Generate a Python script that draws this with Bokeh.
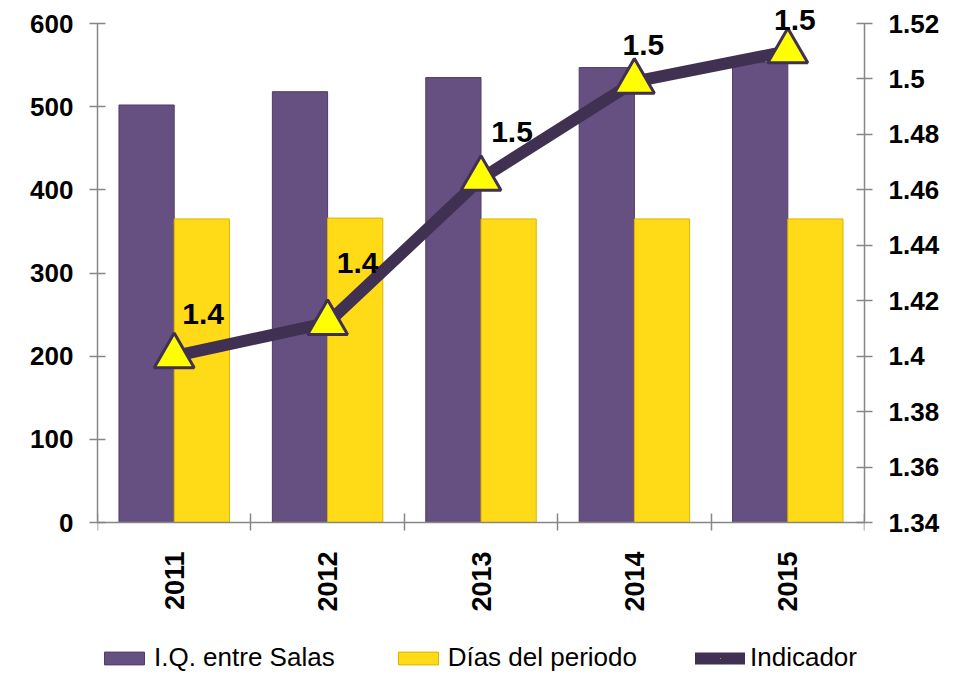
import math
import numpy as np
from bokeh.plotting import figure
from bokeh.models import (Range1d, LinearAxis, FixedTicker, Legend, LegendItem,
                          ColumnDataSource, CustomJSTickFormatter)
from bokeh.core.properties import value
from bokeh.embed import file_html
from bokeh.resources import INLINE

# ---- data ----
years = ["2011", "2012", "2013", "2014", "2015"]
iq_salas = [502, 518, 535, 547, 553]
dias_periodo = [365, 366, 365, 365, 365]
indicador = [1.400, 1.412, 1.464, 1.499, 1.510]
indicador_labels = ["1.4", "1.4", "1.5", "1.5", "1.5"]
left_ticks = [0, 100, 200, 300, 400, 500, 600]
right_ticks = [1.34, 1.36, 1.38, 1.40, 1.42, 1.44, 1.46, 1.48, 1.50, 1.52]

# ---- styles ----
PURPLE = "#665081"
PURPLE_EDGE = "#4e3c64"
YELLOW = "#FFDB17"
YELLOW_EDGE = "#d9b400"
LINE = "#403152"
TRI = "#FFFF00"
AXIS = "#868686"
FONT = "Liberation Sans"
label_dx = [29, 30, 31, 9, 7]
label_dy = [-42, -60, -47, -37, -31]

# layout (pixels)
FRAME_H = 673   # frame covers full height; x axis drawn at value 0
TOP_PAD = 23    # space above top tick
AXIS_Y = 522    # pixel row of the x axis

n = len(years)
idx = np.arange(n)
centers = idx + 0.5
bar_w = 0.36

src = ColumnDataSource(dict(
    xc=centers, xp=centers - bar_w / 2, xy=centers + bar_w / 2,
    iq=iq_salas, dias=dias_periodo, ind=indicador, lab=indicador_labels,
    dx=label_dx, dy=label_dy,
))

span_px = AXIS_Y - TOP_PAD
l0, l1 = left_ticks[0], left_ticks[-1]
r0, r1 = right_ticks[0], right_ticks[-1]
lk = (l1 - l0) / span_px
rk = (r1 - r0) / span_px

p = figure(frame_width=767, frame_height=FRAME_H,
           x_range=Range1d(0, n),
           y_range=Range1d(l0 - (FRAME_H - AXIS_Y) * lk, l1 + TOP_PAD * lk),
           output_backend="svg", toolbar_location=None,
           min_border_left=97, min_border_right=97, min_border_top=0,
           min_border_bottom=0)
p.extra_y_ranges = {"ind": Range1d(r0 - (FRAME_H - AXIS_Y) * rk, r1 + TOP_PAD * rk)}
p.outline_line_color = None
p.xgrid.visible = False
p.ygrid.visible = False
p.background_fill_color = "white"
p.border_fill_color = "white"

# bars
r_iq = p.vbar(x="xp", top="iq", bottom=0, width=bar_w, source=src, fill_color=PURPLE,
              line_color=PURPLE_EDGE, line_width=1)
r_dias = p.vbar(x="xy", top="dias", bottom=0, width=bar_w, source=src, fill_color=YELLOW,
                line_color=YELLOW_EDGE, line_width=1)

# line + markers
r_line = p.line(x="xc", y="ind", source=src, y_range_name="ind",
                line_color=LINE, line_width=12, line_join="round", line_cap="round")
r_tri = p.scatter(x="xc", y="ind", source=src, y_range_name="ind", marker="triangle",
                  size=40, fill_color=TRI, line_color=LINE, line_width=3)
p.text(x="xc", y="ind", text="lab", source=src, y_range_name="ind",
       x_offset="dx", y_offset="dy", text_align="center", text_baseline="middle",
       text_font=value(FONT), text_font_style="bold", text_font_size="30px",
       text_color="black")

# left axis
yl = p.yaxis[0]
yl.ticker = FixedTicker(ticks=left_ticks)
yl.bounds = (l0, l1)
yl.axis_line_color = AXIS
yl.axis_line_width = 1.5
yl.major_tick_line_color = AXIS
yl.major_tick_line_width = 1.5
yl.major_tick_in = 8
yl.major_tick_out = 8
yl.minor_tick_line_color = None
yl.major_label_standoff = 16
yl.major_label_text_font = FONT
yl.major_label_text_font_style = "bold"
yl.major_label_text_font_size = "26px"
yl.major_label_text_color = "black"

# right axis
yr = LinearAxis(y_range_name="ind", ticker=FixedTicker(ticks=right_ticks))
yr.bounds = (r0, r1)
yr.formatter = CustomJSTickFormatter(code="return String(parseFloat(tick.toFixed(2)));")
yr.axis_line_color = AXIS
yr.axis_line_width = 1.5
yr.major_tick_line_color = AXIS
yr.major_tick_line_width = 1.5
yr.major_tick_in = 8
yr.major_tick_out = 8
yr.minor_tick_line_color = None
yr.major_label_standoff = 16
yr.major_label_text_font = FONT
yr.major_label_text_font_style = "bold"
yr.major_label_text_font_size = "26px"
yr.major_label_text_color = "black"
p.add_layout(yr, "right")

# x axis, drawn at value 0 inside the frame
xa = p.xaxis[0]
xa.fixed_location = 0
xa.ticker = FixedTicker(ticks=list(centers), minor_ticks=list(range(n + 1)))
xa.formatter = CustomJSTickFormatter(args=dict(years=years),
                                     code="return years[Math.floor(tick)];")
xa.axis_line_color = AXIS
xa.axis_line_width = 1.5
xa.major_tick_line_color = None
xa.major_tick_in = 0
xa.major_tick_out = 0
xa.minor_tick_line_color = AXIS
xa.minor_tick_line_width = 1.5
xa.minor_tick_in = 9
xa.minor_tick_out = 8
xa.major_label_orientation = math.pi / 2
xa.major_label_standoff = 21
xa.major_label_text_font = FONT
xa.major_label_text_font_style = "bold"
xa.major_label_text_font_size = "27px"
xa.major_label_text_color = "black"

# legend
legend = Legend(items=[
    LegendItem(label="I.Q. entre Salas", renderers=[r_iq]),
    LegendItem(label="Días del periodo", renderers=[r_dias]),
    LegendItem(label="Indicador", renderers=[r_line, r_tri]),
], orientation="horizontal", location=(2, 0))
legend.glyph_width = 50
legend.glyph_height = 16
legend.label_standoff = 5
legend.spacing = 58
legend.padding = 0
legend.margin = 0
legend.border_line_color = None
legend.background_fill_alpha = 0
legend.label_text_font = FONT
legend.label_text_font_size = "26px"
legend.label_text_color = "black"
p.add_layout(legend, "center")

open("out.html", "w").write(file_html(p, INLINE))
